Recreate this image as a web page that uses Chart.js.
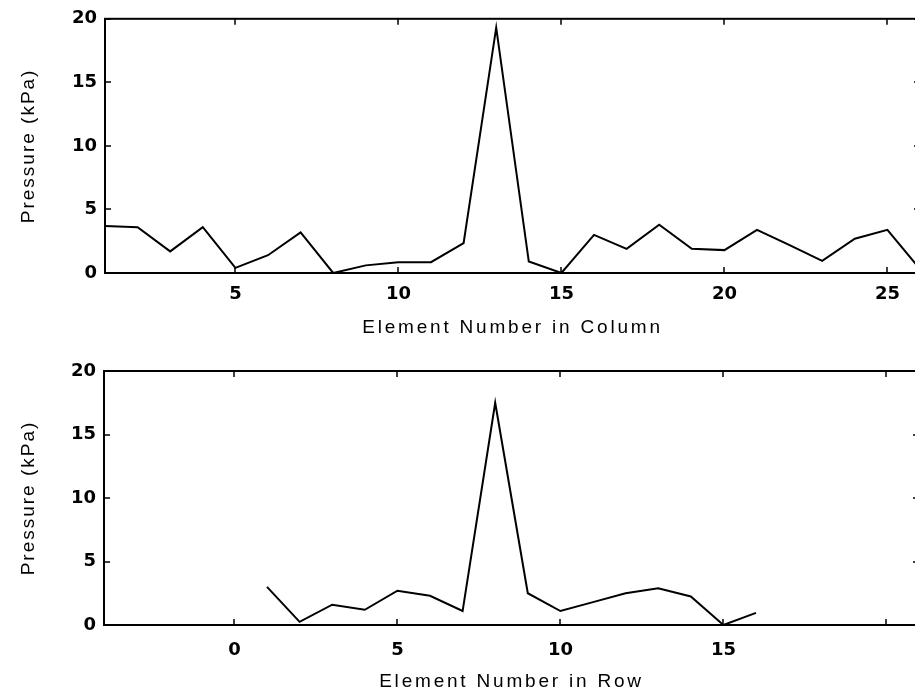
<!DOCTYPE html>
<html lang="en">
<head>
<meta charset="UTF-8">
<title>Pressure per Element</title>
<style>
  html, body { margin: 0; padding: 0; background: #fff; overflow: hidden; }
  .figure { position: relative; width: 915px; height: 694px; overflow: hidden; }
  .figure canvas { position: absolute; left: 0; }
  #columnChart { top: 0; }
  #rowChart { top: 347px; }
</style>
</head>
<body>
<div class="figure">
  <canvas id="columnChart" width="922" height="347"></canvas>
  <canvas id="rowChart" width="922" height="347"></canvas>
</div>

<script src="https://cdn.jsdelivr.net/npm/chart.js@4"></script>
<script>
// pressure along one column of sensing elements
const columnElements = [1, 2, 3, 4, 5, 6, 7, 8, 9, 10, 11, 12, 13, 14, 15, 16, 17, 18, 19, 20, 21, 22, 23, 24, 25, 26];
const columnPressure = [3.7, 3.6, 1.7, 3.6, 0.4, 1.4, 3.2, 0, 0.6, 0.85, 0.85, 2.35, 19.3, 0.9, 0, 3.0, 1.9, 3.8, 1.9, 1.8, 3.4, 2.2, 0.95, 2.7, 3.4, 0.3];
const columnTicks = [5, 10, 15, 20, 25];
const columnTickLabels = ['5', '10', '15', '20', '25'];

// pressure along one row
const rowElements = [1, 2, 3, 4, 5, 6, 7, 8, 9, 10, 11, 12, 13, 14, 15, 16];
const rowPressure = [3.0, 0.25, 1.6, 1.2, 2.7, 2.3, 1.1, 17.5, 2.5, 1.1, 1.8, 2.5, 2.9, 2.25, 0, 0.95];
const rowTicks = [0, 5, 10, 15, 20];
const rowTickLabels = ['0', '5', '10', '15', ''];

const pressureTicks = [0, 5, 10, 15, 20];
const pressureTickLabels = ['0', '5', '10', '15', '20'];

const TICK_FONT = { family: "'DejaVu Sans', sans-serif", size: 18, weight: 'bold' };
const TITLE_FONT = { family: "'Liberation Sans', Arial, sans-serif", size: 19 };

// boxed axes with short inward tick marks on all four sides
const frame = {
  id: 'frame',
  afterDatasetsDraw(chart) {
    const { ctx, chartArea: a, scales: { x, y } } = chart;
    const len = 6;
    ctx.save();
    ctx.strokeStyle = '#000';
    ctx.lineWidth = 2;
    ctx.strokeRect(a.left, a.top, a.right - a.left, a.bottom - a.top);
    ctx.beginPath();
    x.ticks.forEach(t => {
      const px = Math.round(x.getPixelForValue(t.value));
      ctx.moveTo(px, a.bottom); ctx.lineTo(px, a.bottom - len);
      ctx.moveTo(px, a.top); ctx.lineTo(px, a.top + len);
    });
    y.ticks.forEach(t => {
      const py = Math.round(y.getPixelForValue(t.value));
      ctx.moveTo(a.left, py); ctx.lineTo(a.left + len, py);
      ctx.moveTo(a.right, py); ctx.lineTo(a.right - len, py);
    });
    ctx.lineWidth = 1.5;
    ctx.stroke();
    ctx.restore();
  }
};

// the axis titles are set a little wider than the plain font
const spacedTitles = {
  id: 'spacedTitles',
  afterLayout(chart) {
    Object.values(chart.scales).forEach(scale => {
      if (scale._spaced) return;
      const drawTitle = scale.drawTitle;
      scale.drawTitle = function () {
        this.ctx.save();
        this.ctx.letterSpacing = this.isHorizontal() ? '2.8px' : '2px';
        drawTitle.call(this);
        this.ctx.restore();
      };
      scale._spaced = true;
    });
  }
};

function makeChart(id, cfg) {
  const points = cfg.elements.map((e, i) => ({ x: e, y: cfg.pressure[i] }));
  return new Chart(document.getElementById(id), {
    type: 'line',
    data: {
      datasets: [{
        data: points,
        borderColor: '#000',
        borderWidth: 2,
        pointRadius: 0,
        tension: 0,
        fill: false
      }]
    },
    plugins: [frame, spacedTitles],
    options: {
      responsive: false,
      animation: false,
      events: [],
      layout: { padding: { top: cfg.padTop, right: cfg.padRight, left: 0, bottom: 0 } },
      plugins: { legend: { display: false }, tooltip: { enabled: false } },
      scales: {
        x: {
          type: 'linear',
          min: cfg.xMin,
          max: cfg.xMax,
          afterBuildTicks: s => { s.ticks = cfg.xTicks.map(v => ({ value: v })); },
          afterFit: s => { s.height = cfg.xAxisHeight; },
          ticks: {
            callback: v => cfg.xTickLabels[cfg.xTicks.indexOf(v)],
            font: TICK_FONT,
            color: '#000',
            padding: cfg.xTickPad,
            maxRotation: 0,
            autoSkip: false
          },
          grid: { display: false, drawTicks: false },
          border: { display: false },
          title: {
            display: true,
            text: cfg.xTitle,
            font: TITLE_FONT,
            color: '#000',
            padding: { top: 0, bottom: cfg.xTitlePad }
          }
        },
        y: {
          min: 0,
          max: 20,
          afterBuildTicks: s => { s.ticks = pressureTicks.map(v => ({ value: v })); },
          afterFit: s => { s.width = cfg.yAxisWidth; },
          ticks: {
            callback: v => pressureTickLabels[pressureTicks.indexOf(v)],
            font: TICK_FONT,
            color: '#000',
            padding: 8
          },
          grid: { display: false, drawTicks: false },
          border: { display: false },
          title: {
            display: true,
            text: 'Pressure (kPa)',
            font: TITLE_FONT,
            color: '#000',
            padding: { top: 17, bottom: 0 }
          }
        }
      }
    }
  });
}

makeChart('columnChart', {
  elements: columnElements,
  pressure: columnPressure,
  xMin: 1, xMax: 26,
  xTicks: columnTicks,
  xTickLabels: columnTickLabels,
  xTitle: 'Element Number in Column',
  padTop: 16, padRight: 2,
  yAxisWidth: 105,
  xAxisHeight: 74,
  xTickPad: 11,
  xTitlePad: 8
});

makeChart('rowChart', {
  elements: rowElements,
  pressure: rowPressure,
  xMin: -4, xMax: 21,
  xTicks: rowTicks,
  xTickLabels: rowTickLabels,
  xTitle: 'Element Number in Row',
  padTop: 24, padRight: 3,
  yAxisWidth: 104,
  xAxisHeight: 69,
  xTickPad: 15,
  xTitlePad: 1
});
</script>
</body>
</html>
